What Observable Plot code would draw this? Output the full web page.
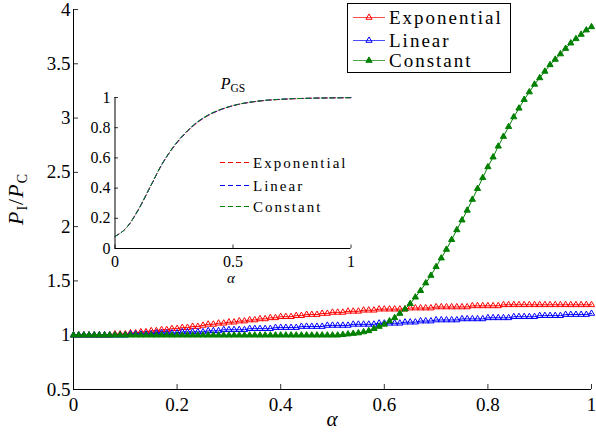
<!DOCTYPE html>
<html><head><meta charset="utf-8">
<script src="https://cdn.jsdelivr.net/npm/d3@7"></script>
<script src="https://cdn.jsdelivr.net/npm/@observablehq/plot@0.6"></script>
<style>
body{margin:0;background:#fff;}
#wrap{position:relative;width:596px;height:434px;font-family:"Liberation Serif","Times New Roman",serif;}
#wrap svg{position:absolute;left:0;top:0;overflow:visible;}
</style></head><body><div id="wrap"></div>
<script>
// ---- data ----
const alpha = d3.range(0, 101).map(i => i / 100);
const exponential = [
1.00,1.00,1.00,1.00,1.00,1.00,1.00,1.00,1.01,1.01,
1.01,1.02,1.02,1.03,1.03,1.04,1.04,1.05,1.05,1.06,
1.06,1.07,1.07,1.08,1.08,1.09,1.10,1.10,1.11,1.11,
1.12,1.12,1.13,1.13,1.14,1.14,1.15,1.15,1.16,1.16,
1.17,1.17,1.17,1.18,1.18,1.19,1.19,1.19,1.20,1.20,
1.21,1.21,1.21,1.22,1.22,1.22,1.23,1.23,1.23,1.24,
1.24,1.24,1.24,1.24,1.24,1.25,1.25,1.25,1.25,1.25,
1.26,1.26,1.26,1.26,1.26,1.26,1.26,1.27,1.27,1.27,
1.27,1.27,1.27,1.28,1.28,1.28,1.28,1.28,1.28,1.28,
1.28,1.28,1.28,1.28,1.28,1.28,1.28,1.28,1.28,1.28,
1.28];
const linear = [
1.00,1.00,1.00,1.00,1.00,1.00,1.00,1.00,1.00,1.00,
1.00,1.01,1.01,1.01,1.01,1.01,1.02,1.02,1.02,1.02,
1.02,1.03,1.03,1.03,1.03,1.03,1.04,1.04,1.04,1.05,
1.05,1.05,1.05,1.05,1.06,1.06,1.06,1.06,1.06,1.07,
1.07,1.07,1.07,1.07,1.08,1.08,1.08,1.08,1.08,1.09,
1.09,1.09,1.09,1.09,1.10,1.10,1.10,1.10,1.10,1.11,
1.11,1.11,1.11,1.11,1.12,1.12,1.12,1.13,1.13,1.13,
1.14,1.14,1.14,1.14,1.14,1.15,1.15,1.15,1.15,1.15,
1.16,1.16,1.16,1.16,1.16,1.17,1.17,1.17,1.17,1.17,
1.18,1.18,1.18,1.18,1.18,1.19,1.19,1.19,1.19,1.19,
1.20];
const constant = [
1.00,1.00,1.00,1.00,1.00,1.00,1.00,1.00,1.00,1.00,
1.00,1.00,1.00,1.00,1.00,1.00,1.00,1.00,1.00,1.00,
1.00,1.00,1.00,1.00,1.00,1.00,1.00,1.00,1.00,1.00,
1.00,1.00,1.00,1.00,1.00,1.00,1.00,1.00,1.00,1.00,
1.00,1.00,1.00,1.00,1.00,1.00,1.00,1.00,1.00,1.00,
1.00,1.00,1.005,1.01,1.015,1.02,1.03,1.04,1.06,1.08,
1.10,1.13,1.16,1.20,1.24,1.29,1.35,1.41,1.48,1.55,
1.63,1.71,1.79,1.88,1.97,2.06,2.15,2.25,2.35,2.45,
2.55,2.64,2.74,2.83,2.92,3.01,3.09,3.17,3.24,3.31,
3.37,3.43,3.49,3.54,3.59,3.64,3.69,3.73,3.77,3.81,
3.84];
const xTicks = [0, 0.2, 0.4, 0.6, 0.8, 1];
const yTicks = [0.5, 1, 1.5, 2, 2.5, 3, 3.5, 4];

// inset P_GS
const insetAlpha = [0,0.05,0.1,0.15,0.2,0.25,0.3,0.35,0.4,0.45,0.5,0.55,0.6,0.65,0.7,0.75,0.8,0.85,0.9,0.95,1];
const pgsExponential = [0.08,0.14,0.26,0.41,0.56,0.675,0.765,0.835,0.885,0.92,0.945,0.962,0.974,0.982,0.987,0.991,0.994,0.996,0.997,0.998,0.999];
const pgsLinear      = [0.08,0.14,0.26,0.41,0.56,0.677,0.767,0.837,0.887,0.921,0.946,0.963,0.975,0.983,0.988,0.992,0.994,0.996,0.997,0.998,0.999];
const pgsConstant    = [0.08,0.14,0.26,0.412,0.562,0.68,0.77,0.84,0.889,0.923,0.947,0.964,0.975,0.983,0.988,0.992,0.994,0.996,0.997,0.998,0.999];
const insetXTicks = [0, 0.5, 1];
const insetYTicks = [0, 0.2, 0.4, 0.6, 0.8, 1];

const seriesNames = ["Exponential", "Linear", "Constant"];
const colors = ["#ff0000", "#0000ff", "#008000"];

// ---- main plot ----
const rows = alpha.map((a, i) => ({a, e: exponential[i], l: linear[i], c: constant[i]}));
const W = 596, H = 434, mL = 73, mR = 5, mT = 9, mB = 45;
const innerW = W - mL - mR, innerH = H - mT - mB;
const font = '"Liberation Serif", "Times New Roman", serif';

const main = Plot.plot({
  width: W, height: H, marginLeft: mL, marginRight: mR, marginTop: mT, marginBottom: mB,
  style: {fontFamily: font, fontSize: "19px", color: "#000", background: "transparent", overflow: "visible"},
  x: {domain: [0, 1]},
  y: {domain: [0.5, 4]},
  marks: [
    Plot.axisX(xTicks, {tickSize: 0, tickPadding: 8, tickFormat: d => String(d), label: null, fontSize: 19}),
    Plot.axisY(yTicks, {tickSize: 0, tickPadding: 3, tickFormat: d => String(d), label: null, fontSize: 19}),
    Plot.tickX(xTicks, {x: d => d, insetTop: innerH - 5, stroke: "#000", strokeWidth: 0.8}),
    Plot.tickY(yTicks, {y: d => d, insetRight: innerW - 5, stroke: "#000", strokeWidth: 0.8}),
    Plot.ruleX([0], {stroke: "#000", strokeWidth: 1}),
    Plot.ruleY([0.5], {stroke: "#000", strokeWidth: 1}),
    Plot.line(rows, {x: "a", y: "e", stroke: colors[0], strokeWidth: 1}),
    Plot.dot(rows, {x: "a", y: "e", symbol: "triangle", r: 2.3, stroke: colors[0], fill: "none", strokeWidth: 1}),
    Plot.line(rows, {x: "a", y: "l", stroke: colors[1], strokeWidth: 1}),
    Plot.dot(rows, {x: "a", y: "l", symbol: "triangle", r: 2.3, stroke: colors[1], fill: "none", strokeWidth: 1}),
    Plot.line(rows, {x: "a", y: "c", stroke: colors[2], strokeWidth: 1}),
    Plot.dot(rows, {x: "a", y: "c", symbol: "triangle", r: 2.3, stroke: colors[2], fill: colors[2], strokeWidth: 1})
  ]
});

// ---- inset plot ----
const iLeft = 75, iTop = 70, iW = 290, iH = 215, imL = 39.5, imR = 14.5, imT = 27, imB = 37;
const iInnerW = iW - imL - imR, iInnerH = iH - imT - imB;
const irows = insetAlpha.map((a, i) => ({a, e: pgsExponential[i], l: pgsLinear[i], c: pgsConstant[i]}));
const inset = Plot.plot({
  width: iW, height: iH, marginLeft: imL, marginRight: imR, marginTop: imT, marginBottom: imB,
  style: {fontFamily: font, fontSize: "16px", color: "#000", background: "transparent", overflow: "visible"},
  x: {domain: [0, 1]},
  y: {domain: [0, 1]},
  marks: [
    Plot.axisX(insetXTicks, {tickSize: 0, tickPadding: 7, tickFormat: d => String(d), label: null, fontSize: 16}),
    Plot.axisY(insetYTicks, {tickSize: 0, tickPadding: 4.5, tickFormat: d => String(d), label: null, fontSize: 16}),
    Plot.tickX(insetXTicks, {x: d => d, insetTop: iInnerH - 3.5, stroke: "#000", strokeWidth: 0.8}),
    Plot.tickY(insetYTicks, {y: d => d, insetRight: iInnerW - 3.5, stroke: "#000", strokeWidth: 0.8}),
    Plot.ruleX([0], {stroke: "#000", strokeWidth: 1}),
    Plot.ruleY([0], {stroke: "#000", strokeWidth: 1}),
    Plot.line(irows, {x: "a", y: "e", stroke: colors[0], strokeWidth: 1, strokeDasharray: "5,3", curve: "monotone-x"}),
    Plot.line(irows, {x: "a", y: "l", stroke: colors[1], strokeWidth: 1, strokeDasharray: "5,3", strokeDashoffset: 0.5, curve: "monotone-x"}),
    Plot.line(irows, {x: "a", y: "c", stroke: colors[2], strokeWidth: 1, strokeDasharray: "5,3", strokeDashoffset: 1, curve: "monotone-x"})
  ]
});
inset.style.left = iLeft + "px";
inset.style.top = iTop + "px";

const wrap = document.getElementById("wrap");
wrap.appendChild(main);
wrap.appendChild(inset);

// ---- overlay: labels and legends ----
const ov = d3.select(wrap).append("svg")
  .attr("width", W).attr("height", H)
  .style("font-family", font);

// y label P_I / P_C
const yl = ov.append("text").attr("transform", "translate(23,199) rotate(-90)")
  .attr("text-anchor", "middle").attr("font-size", 22).attr("fill", "#000").style("letter-spacing", "1px");
yl.append("tspan").attr("font-style", "italic").text("P");
yl.append("tspan").attr("font-size", 14).attr("dy", 4).text("I");
yl.append("tspan").attr("dy", -4).text("/");
yl.append("tspan").attr("font-style", "italic").text("P");
yl.append("tspan").attr("font-size", 14).attr("dy", 4).text("C");

// x label
ov.append("text").attr("x", 332).attr("y", 426).attr("text-anchor", "middle")
  .attr("font-size", 21).attr("font-style", "italic").text("α");

// inset x label
ov.append("text").attr("x", 231).attr("y", 283).attr("text-anchor", "middle")
  .attr("font-size", 15).attr("font-style", "italic").text("α");

// inset title P_GS
const it = ov.append("text").attr("x", 233).attr("y", 89).attr("text-anchor", "middle").attr("font-size", 16);
it.append("tspan").attr("font-style", "italic").text("P");
it.append("tspan").attr("font-size", 11.5).attr("dy", 3).text("GS");

// main legend
const lg = ov.append("g");
lg.append("rect").attr("x", 347.5).attr("y", 3.5).attr("width", 163).attr("height", 69)
  .attr("fill", "#fff").attr("stroke", "#000").attr("stroke-width", 1);
const legY = [17.5, 40.5, 60.5];
seriesNames.forEach((name, i) => {
  const y = legY[i];
  lg.append("line").attr("x1", 353).attr("x2", 385).attr("y1", y).attr("y2", y)
    .attr("stroke", colors[i]).attr("stroke-width", 1).attr("stroke-opacity", 0.7);
  lg.append("path").attr("d", d3.symbol(d3.symbolTriangle, Math.PI * 2.3 * 2.3)())
    .attr("transform", `translate(369,${y})`)
    .attr("stroke", colors[i]).attr("fill", i === 2 ? colors[i] : "none").attr("stroke-width", 1);
  lg.append("text").attr("x", 389).attr("y", y + 6.5).attr("font-size", 19)
    .style("letter-spacing", "2px").attr("fill", "#000").text(name);
});

// inset legend
const insetLegY = [162.5, 185.5, 206.5];
seriesNames.forEach((name, i) => {
  const y = insetLegY[i];
  ov.append("line").attr("x1", 220).attr("x2", 251).attr("y1", y).attr("y2", y)
    .attr("stroke", colors[i]).attr("stroke-width", 1).attr("stroke-dasharray", "5,3");
  ov.append("text").attr("x", 253).attr("y", y + 5).attr("font-size", 15)
    .style("letter-spacing", "2px").attr("fill", "#000").text(name);
});
</script>
</body></html>
